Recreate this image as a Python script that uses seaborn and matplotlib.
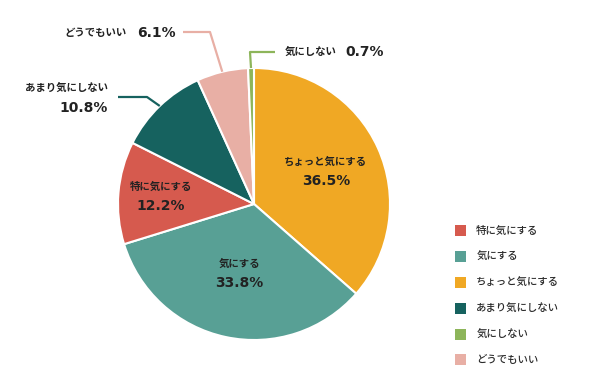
import numpy as np
import matplotlib
matplotlib.use('Agg')
import matplotlib.pyplot as plt
import matplotlib.patches as mpatches
import seaborn as sns

# Data (clockwise from 12 o'clock)
categories = ['ちょっと気にする', '気にする', '特に気にする', 'あまり気にしない', 'どうでもいい', '気にしない']
values = [36.5, 33.8, 12.2, 10.8, 6.1, 0.7]
colors = ['#F0A824', '#58A095', '#D65A4E', '#16625F', '#E8AFA5', '#8DB55A']
legend_order = ['特に気にする', '気にする', 'ちょっと気にする', 'あまり気にしない', '気にしない', 'どうでもいい']

sns.set_theme(style='white')
plt.rcParams['font.family'] = ['Noto Sans CJK JP', 'DejaVu Sans']

W, H = 591, 382
fig = plt.figure(figsize=(W / 100, H / 100), dpi=100)
fig.patch.set_facecolor('white')

# pie centre and radius in pixels
cx, cy, R = 254, 204, 136
ax = fig.add_axes([(cx - R) / W, (H - cy - R) / H, 2 * R / W, 2 * R / H])

wedges, _ = ax.pie(values, colors=colors, startangle=90, counterclock=False, radius=1,
                   wedgeprops=dict(edgecolor='white', linewidth=1.5))
ax.set_xlim(-1, 1)
ax.set_ylim(-1, 1)
ax.axis('off')


def px(x, y):
    # pixel position -> data coordinates
    return (x - cx) / R, (cy - y) / R


text_color = '#222222'
lab_kw = dict(fontsize=7.5, fontweight='bold', color=text_color)
pct_kw = dict(fontsize=10, fontweight='bold', color=text_color, family=['DejaVu Sans'])

# inside labels for big slices
inner_r = [0.58, 0.52, 0.69]
for i in range(3):
    w = wedges[i]
    mid = np.deg2rad((w.theta1 + w.theta2) / 2)
    x, y = inner_r[i] * np.cos(mid), inner_r[i] * np.sin(mid)
    ax.text(x, y + 0.07, categories[i], ha='center', va='center', **lab_kw)
    ax.text(x, y - 0.07, f'{values[i]}%', ha='center', va='center', **pct_kw)

# outside labels with leader lines
leaders = {
    3: [(147, 97), (118, 97)],
    4: [(210, 32), (183, 32)],
    5: [(250, 52), (275, 52)],
}
for i, pts in leaders.items():
    w = wedges[i]
    mid = np.deg2rad((w.theta1 + w.theta2) / 2)
    xs = [np.cos(mid)] + [px(*p)[0] for p in pts]
    ys = [np.sin(mid)] + [px(*p)[1] for p in pts]
    ax.plot(xs, ys, color=colors[i], lw=1.6, clip_on=False, solid_capstyle='butt')

# あまり気にしない
x, y = px(108, 88)
ax.text(x, y, categories[3], ha='right', va='center', **lab_kw)
x, y = px(108, 108)
ax.text(x, y, f'{values[3]}%', ha='right', va='center', **pct_kw)
# どうでもいい
x, y = px(127, 33)
ax.text(x, y, categories[4], ha='right', va='center', **lab_kw)
x, y = px(137, 33)
ax.text(x, y, f'{values[4]}%', ha='left', va='center', **pct_kw)
# 気にしない
x, y = px(285, 52)
ax.text(x, y, categories[5], ha='left', va='center', **lab_kw)
x, y = px(345, 52)
ax.text(x, y, f'{values[5]}%', ha='left', va='center', **pct_kw)

# legend
color_map = dict(zip(categories, colors))
handles = [mpatches.Patch(facecolor=color_map[c], edgecolor='none', label=c) for c in legend_order]
fig.legend(handles=handles, loc='upper left', bbox_to_anchor=(446 / W, 1 - 216 / H),
           frameon=False, labelspacing=1.42, handlelength=1.0,
           handleheight=1.25, handletextpad=1.0, labelcolor='#2a2a2a',
           prop=dict(size=7.5, weight='medium'))

fig.savefig('out.png', dpi=100, facecolor='white')
